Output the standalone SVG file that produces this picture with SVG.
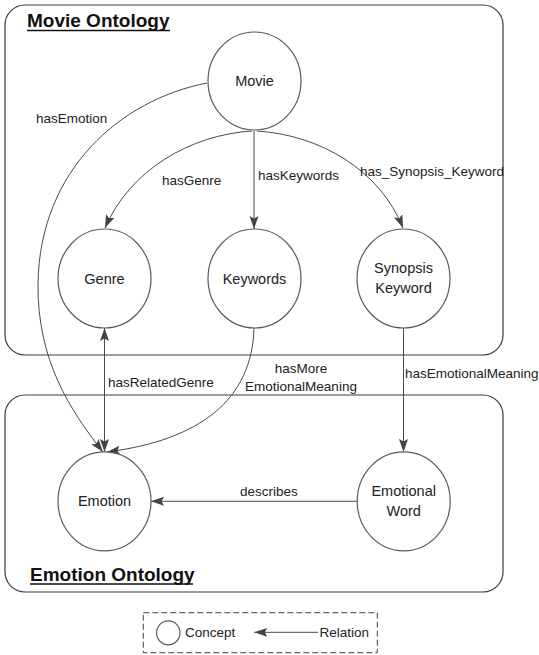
<svg xmlns="http://www.w3.org/2000/svg" width="539" height="655" viewBox="0 0 539 655">
<style>
.box{fill:none;stroke:#3a3a3a;stroke-width:1.2}
.node{fill:#fff;stroke:#5a5a5a;stroke-width:1.2}
.edge{fill:none;stroke:#4a4a4a;stroke-width:1}
.title{font-family:"Liberation Sans",Arial,sans-serif;font-size:19px;font-weight:bold;fill:#111}
.nl{font-family:"Liberation Sans",Arial,sans-serif;font-size:14.5px;fill:#222;text-anchor:middle}
.el{font-family:"Liberation Sans",Arial,sans-serif;font-size:13.5px;fill:#222}
.ul{stroke:#111;stroke-width:1.6}
</style>
<defs>
<marker id="arr" markerUnits="userSpaceOnUse" markerWidth="14" markerHeight="10" refX="13" refY="4.5" orient="auto-start-reverse" viewBox="0 0 14 10">
<path d="M0,0 L13,4.5 L0,9 L2.5,4.5 Z" fill="#444"/>
</marker>
</defs>

<g id="movie-ontology">
<rect class="box" x="5" y="5" width="498" height="350" rx="20"/>
<text class="title" x="27" y="27">Movie Ontology</text>
<line class="ul" x1="27" y1="30.5" x2="170" y2="30.5"/>
</g>
<g id="emotion-ontology">
<rect class="box" x="5" y="395" width="498" height="197" rx="20"/>
<text class="title" x="30" y="581">Emotion Ontology</text>
<line class="ul" x1="30" y1="584" x2="193" y2="584"/>
</g>

<g id="connectors">
<path class="edge" d="M207,83 C120,100 40,170 38,283 C37,360 70,410 103,452" marker-end="url(#arr)"/>
<path class="edge" d="M252,131 C190,135 130,170 105,228" marker-end="url(#arr)"/>
<line class="edge" x1="254" y1="131" x2="254" y2="229" marker-end="url(#arr)"/>
<path class="edge" d="M257,131 C320,135 380,170 403,228" marker-end="url(#arr)"/>
<line class="edge" x1="104.5" y1="328" x2="104.5" y2="452" marker-start="url(#arr)" marker-end="url(#arr)"/>
<path class="edge" d="M254,328 C252,400 200,440 107,452" marker-end="url(#arr)"/>
<line class="edge" x1="403.5" y1="328" x2="403.5" y2="452" marker-end="url(#arr)"/>
<line class="edge" x1="357" y1="501.3" x2="151" y2="501.3" marker-end="url(#arr)"/>
<text class="el" x="36" y="123">hasEmotion</text>
<text class="el" x="162" y="185">hasGenre</text>
<text class="el" x="258" y="180">hasKeywords</text>
<text class="el" x="360" y="176">has_Synopsis_Keyword</text>
<text class="el" x="108" y="387">hasRelatedGenre</text>
<text class="el" x="301" y="373" text-anchor="middle">hasMore</text>
<text class="el" x="301" y="391" text-anchor="middle">EmotionalMeaning</text>
<text class="el" x="405" y="378">hasEmotionalMeaning</text>
<text class="el" x="240" y="496">describes</text>
</g>

<g id="movie">
<ellipse class="node" cx="254.5" cy="81" rx="46.5" ry="49"/>
<text class="nl" x="254.5" y="86">Movie</text>
</g>
<g id="genre">
<ellipse class="node" cx="104.5" cy="278.5" rx="46.5" ry="49.5"/>
<text class="nl" x="104.5" y="283.5">Genre</text>
</g>
<g id="keywords">
<ellipse class="node" cx="254.5" cy="278.5" rx="46.5" ry="49.5"/>
<text class="nl" x="254.5" y="283.5">Keywords</text>
</g>
<g id="synopsis-keyword">
<ellipse class="node" cx="403.5" cy="278.5" rx="46.5" ry="49.5"/>
<text class="nl" x="403.5" y="273">Synopsis</text>
<text class="nl" x="403.5" y="293">Keyword</text>
</g>
<g id="emotion">
<ellipse class="node" cx="104.5" cy="501.3" rx="46.5" ry="49.5"/>
<text class="nl" x="104.5" y="506">Emotion</text>
</g>
<g id="emotional-word">
<ellipse class="node" cx="403.7" cy="501.3" rx="46.5" ry="49.5"/>
<text class="nl" x="403.7" y="496">Emotional</text>
<text class="nl" x="403.7" y="516">Word</text>
</g>

<g id="legend">
<rect x="143.3" y="612.7" width="234" height="40" fill="none" stroke="#444" stroke-width="1" stroke-dasharray="6 3"/>
<ellipse class="node" cx="168.3" cy="632.8" rx="11.7" ry="12"/>
<text class="el" x="185" y="637">Concept</text>
<line class="edge" x1="318" y1="632.3" x2="254.3" y2="632.3" marker-end="url(#arr)"/>
<text class="el" x="319.5" y="637">Relation</text>
</g>
</svg>
